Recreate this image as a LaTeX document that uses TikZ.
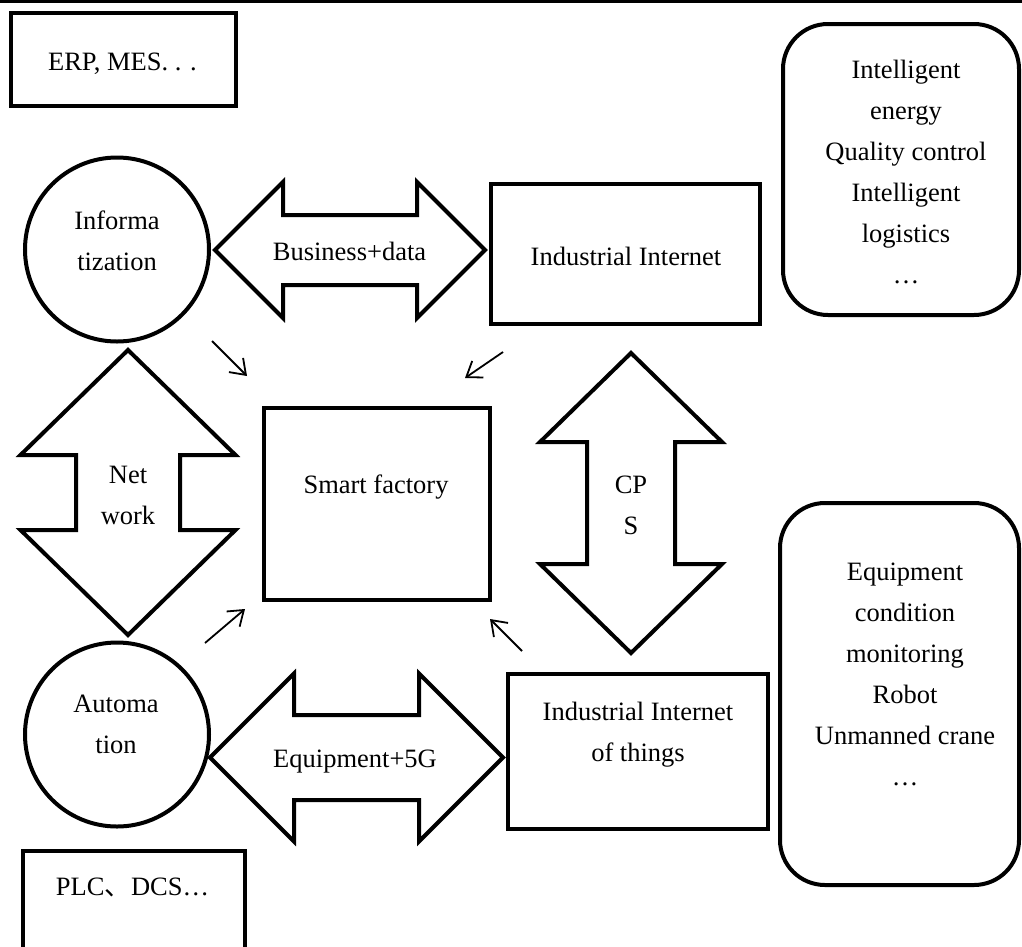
\documentclass[tikz,border=0pt]{standalone}
\usepackage{fontspec}
\setmainfont{Liberation Serif}
\newfontfamily\cjkfont{Noto Sans CJK SC}
\usetikzlibrary{arrows.meta}
\begin{document}
\begin{tikzpicture}[x=1pt,y=-1pt,
  rectbox/.style={draw, line width=4pt, rectangle, inner sep=0pt},
  roundbox/.style={rectbox, rounded corners=45pt},
  circbox/.style={draw, line width=4pt, circle, inner sep=0pt, minimum size=184pt},
  blockarrow/.style={draw, line width=4pt, line join=miter},
  txt/.style={inner sep=0pt, font=\fontsize{26.5pt}{41pt}\selectfont},
  mtxt/.style={txt, align=center, anchor=north},
  smallarrow/.style={line width=1.8pt, -{Straight Barb[length=14pt,width=20pt]}}
]
\useasboundingbox (0,0) rectangle (1022,946);
\clip (0,0) rectangle (1022,946);
\draw[line width=3pt] (0,1.5) -- (1022,1.5);

% boxes
\node[rectbox, minimum width=225pt, minimum height=93pt] (erp) at (123.5,59.5) {};
\node[rectbox, minimum width=269pt, minimum height=140pt] (ii) at (625.5,254) {};
\node[rectbox, minimum width=226pt, minimum height=192pt] (sf) at (377,504) {};
\node[rectbox, minimum width=260pt, minimum height=155pt] (iiot) at (638,751.5) {};
\node[rectbox, minimum width=222pt, minimum height=98pt] (plc) at (134,900) {};
\node[roundbox, minimum width=236pt, minimum height=291pt] (tr) at (901,169.5) {};
\node[roundbox, minimum width=239pt, minimum height=382pt] (br) at (899.5,694) {};
\node[circbox] (info) at (117,249.5) {};
\node[circbox] (auto) at (117,734.5) {};

% block arrows
\draw[blockarrow, shift={(350,250)}] (-135,0) -- (-67,-68) -- (-67,-35) -- (67,-35) -- (67,-68) -- (135,0) -- (67,68) -- (67,35) -- (-67,35) -- (-67,68) -- cycle;
\draw[blockarrow, shift={(356.5,757.5)}] (-146.5,0) -- (-62.5,-84) -- (-62.5,-42.5) -- (62.5,-42.5) -- (62.5,-84) -- (146.5,0) -- (62.5,84) -- (62.5,42.5) -- (-62.5,42.5) -- (-62.5,84) -- cycle;
\draw[blockarrow, shift={(128,492.5)}] (0,-142.5) -- (107.5,-37.5) -- (52,-37.5) -- (52,37.5) -- (107.5,37.5) -- (0,142.5) -- (-107.5,37.5) -- (-52,37.5) -- (-52,-37.5) -- (-107.5,-37.5) -- cycle;
\draw[blockarrow, shift={(631,503)}] (0,-150) -- (91,-61) -- (44,-61) -- (44,61) -- (91,61) -- (0,150) -- (-91,61) -- (-44,61) -- (-44,-61) -- (-91,-61) -- cycle;

% texts
\node[txt, anchor=base] (erpT) at (122.5,70) {ERP, MES. . .};
\node[txt, anchor=base] (bdT) at (349.5,260) {Business+data};
\node[txt, anchor=base] (iiT) at (626,265) {Industrial Internet};
\node[txt, anchor=base] (sfT) at (376,493) {Smart factory};
\node[txt, anchor=base] (eqT) at (355,767) {Equipment+5G};
\node[txt, anchor=base] (plcT) at (132.5,895) {PLC{\cjkfont 、}DCS…};
\node[mtxt] (infoT) at (117,209) {\rule{0pt}{20pt}Informa\\tization};
\node[mtxt] (autoT) at (116,692) {\rule{0pt}{20pt}Automa\\tion};
\node[mtxt] (netT) at (128,463) {\rule{0pt}{20pt}Net\\work};
\node[mtxt] (cpsT) at (631,473) {\rule{0pt}{20pt}CP\\S};
\node[mtxt] (iiotT) at (638,700) {\rule{0pt}{20pt}Industrial Internet\\of things};
\node[mtxt] (trT) at (906,58) {\rule{0pt}{20pt}Intelligent\\energy\\Quality control\\Intelligent\\logistics\\…};
\node[mtxt] (brT) at (905,560) {\rule{0pt}{20pt}Equipment\\condition\\monitoring\\Robot\\Unmanned crane\\…};

% small arrows
\coordinate (a1s) at (212,341); \coordinate (a1e) at (247,376);
\coordinate (a2s) at (503,352); \coordinate (a2e) at (465,378);
\coordinate (a3s) at (205,643); \coordinate (a3e) at (245,609);
\coordinate (a4s) at (522,651); \coordinate (a4e) at (490,619);
\draw[smallarrow] (a1s) -- (a1e);
\draw[smallarrow] (a2s) -- (a2e);
\draw[smallarrow] (a3s) -- (a3e);
\draw[smallarrow] (a4s) -- (a4e);
\end{tikzpicture}
\end{document}
